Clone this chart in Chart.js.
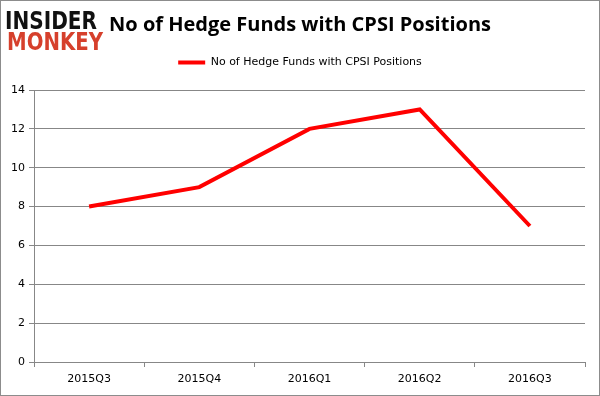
<!DOCTYPE html>
<html>
<head>
<meta charset="utf-8">
<script src="https://cdn.jsdelivr.net/npm/chart.js@4/dist/chart.umd.min.js"></script>
<style>
  html, body { margin: 0; padding: 0; background: #fff; }
  canvas { display: block; }
</style>
</head>
<body>
<canvas id="chart" width="600" height="396"></canvas>
<script>
const quarters = ["2015Q3", "2015Q4", "2016Q1", "2016Q2", "2016Q3"];
const hedgeFunds = [8, 9, 12, 13, 7];
const yTicks = [0, 2, 4, 6, 8, 10, 12, 14];

const seriesName = "No of Hedge Funds with CPSI Positions";
const gridGray = "#878787";

// logo + outer frame
const decorations = {
  id: "decorations",
  afterDraw(chart) {
    const ctx = chart.ctx;
    ctx.save();
    ctx.strokeStyle = "#8c8c8c";
    ctx.lineWidth = 1;
    ctx.strokeRect(0.5, 0.5, chart.width - 1, chart.height - 1);

    ctx.textBaseline = "alphabetic";
    ctx.textAlign = "left";
    ctx.font = "900 25px 'DejaVu Sans'";
    ctx.fillStyle = "#111";
    ctx.fillText("INSIDER", 5, 29, 92);
    ctx.fillStyle = "#d6402c";
    ctx.fillText("MONKEY", 7, 50, 96);
    ctx.restore();
  }
};

new Chart(document.getElementById("chart"), {
  type: "line",
  data: {
    labels: quarters,
    datasets: [{
      label: seriesName,
      data: hedgeFunds,
      borderColor: "#ff0000",
      backgroundColor: "#ff0000",
      borderWidth: 4,
      pointRadius: 0,
      tension: 0,
    }],
  },
  options: {
    responsive: false,
    animation: false,
    layout: { padding: 0 },
    scales: {
      x: {
        offset: true,
        grid: {
          offset: true,
          drawOnChartArea: false,
          drawTicks: true,
          tickLength: 5,
          color: gridGray,
        },
        border: { color: gridGray },
        ticks: {
          color: "#000",
          font: { family: "'DejaVu Sans'", size: 11 },
          padding: 6,
          maxRotation: 0,
        },
        afterFit(scale) { scale.height = 34; },
      },
      y: {
        min: 0,
        max: 14,
        afterBuildTicks(scale) {
          scale.ticks = yTicks.map(v => ({ value: v }));
        },
        grid: {
          color: gridGray,
          tickLength: 5,
        },
        border: { color: gridGray },
        ticks: {
          color: "#000",
          font: { family: "'DejaVu Sans'", size: 11 },
          padding: 4,
        },
        afterFit(scale) { scale.width = 34; },
      },
      // empty axes used only as spacing
      spacer: {
        position: "right",
        display: true,
        grid: { display: false },
        border: { display: false },
        ticks: { display: false },
        afterFit(scale) { scale.width = 15; },
      },
      topGap: {
        type: "category",
        position: "top",
        display: true,
        grid: { display: false },
        border: { display: false },
        ticks: { display: false },
        afterFit(scale) { scale.height = 12; },
      },
    },
    plugins: {
      title: {
        display: true,
        text: "No of Hedge Funds with CPSI Positions",
        color: "#000",
        font: { family: "'Open Sans'", size: 20, weight: "bold" },
        padding: { top: 13, bottom: 10 },
      },
      legend: {
        labels: {
          color: "#000",
          font: { family: "'DejaVu Sans'", size: 11 },
          boxWidth: 27,
          boxHeight: 4,
          padding: 10,
          useBorderRadius: false,
          generateLabels(chart) {
            const ds = chart.data.datasets[0];
            return [{
              text: ds.label,
              fillStyle: ds.borderColor,
              strokeStyle: ds.borderColor,
              lineWidth: 0,
              datasetIndex: 0,
            }];
          },
        },
      },
      tooltip: { enabled: false },
    },
  },
  plugins: [decorations],
});
</script>
</body>
</html>
